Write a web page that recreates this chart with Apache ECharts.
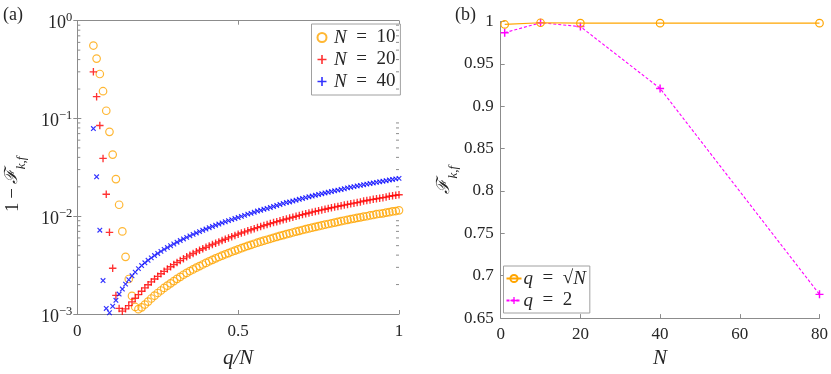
<!DOCTYPE html>
<html>
<head>
<meta charset="utf-8">
<script src="https://cdn.jsdelivr.net/npm/echarts@6/dist/echarts.min.js"></script>
<style>
  html, body { margin: 0; padding: 0; background: #fff; }
  #main { width: 831px; height: 374px; }
</style>
</head>
<body>
<div id="main"></div>
<script>
// panel (a): 1 - F vs q/N, log scale
const qOverN = [
  0.05, 0.06, 0.07, 0.08, 0.09, 0.10, 0.11, 0.12, 0.13, 0.14, 0.15, 0.16, 0.17, 0.18, 0.19, 0.20,
  0.21, 0.22, 0.23, 0.24, 0.25, 0.26, 0.27, 0.28, 0.29, 0.30, 0.31, 0.32, 0.33, 0.34, 0.35, 0.36,
  0.37, 0.38, 0.39, 0.40, 0.41, 0.42, 0.43, 0.44, 0.45, 0.46, 0.47, 0.48, 0.49, 0.50, 0.51, 0.52,
  0.53, 0.54, 0.55, 0.56, 0.57, 0.58, 0.59, 0.60, 0.61, 0.62, 0.63, 0.64, 0.65, 0.66, 0.67, 0.68,
  0.69, 0.70, 0.71, 0.72, 0.73, 0.74, 0.75, 0.76, 0.77, 0.78, 0.79, 0.80, 0.81, 0.82, 0.83, 0.84,
  0.85, 0.86, 0.87, 0.88, 0.89, 0.90, 0.91, 0.92, 0.93, 0.94, 0.95, 0.96, 0.97, 0.98, 0.99, 1.00
];

const infidN10 = [
  0.557, 0.41, 0.285, 0.19, 0.12, 0.073, 0.0427, 0.024, 0.0131, 0.0070, 0.00384, 0.00228, 0.00153, 0.00118, 0.00112, 0.00117,
  0.00125, 0.00134, 0.00144, 0.00154, 0.00164, 0.00174, 0.00185, 0.00195, 0.00206, 0.00217, 0.00229, 0.00240, 0.00252, 0.00263, 0.00275, 0.00286,
  0.00298, 0.00309, 0.00321, 0.00333, 0.00346, 0.00358, 0.00371, 0.00383, 0.00396, 0.00408, 0.00420, 0.00433, 0.00445, 0.00458, 0.00471, 0.00484,
  0.00497, 0.00510, 0.00523, 0.00536, 0.00549, 0.00562, 0.00575, 0.00588, 0.00602, 0.00615, 0.00629, 0.00642, 0.00655, 0.00669, 0.00682, 0.00696,
  0.00709, 0.00723, 0.00737, 0.00751, 0.00764, 0.00778, 0.00792, 0.00806, 0.00820, 0.00833, 0.00847, 0.00861, 0.00875, 0.00890, 0.00904, 0.00918,
  0.00932, 0.00946, 0.00961, 0.00975, 0.00989, 0.0100, 0.0102, 0.0103, 0.0105, 0.0106, 0.0107, 0.0109, 0.0110, 0.0112, 0.0113, 0.0115
];

const infidN20 = [
  0.30, 0.167, 0.0847, 0.039, 0.0168, 0.00684, 0.00294, 0.00155, 0.00114, 0.00107, 0.00113, 0.00122, 0.00133, 0.00145, 0.00158, 0.00171,
  0.00185, 0.00199, 0.00213, 0.00228, 0.00243, 0.00258, 0.00273, 0.00288, 0.00304, 0.00320, 0.00336, 0.00352, 0.00368, 0.00384, 0.00400, 0.00416,
  0.00432, 0.00449, 0.00465, 0.00481, 0.00497, 0.00514, 0.00530, 0.00546, 0.00564, 0.00582, 0.00600, 0.00618, 0.00636, 0.00655, 0.00673, 0.00691,
  0.00709, 0.00727, 0.00746, 0.00765, 0.00784, 0.00803, 0.00822, 0.00842, 0.00861, 0.00880, 0.00899, 0.00918, 0.00938, 0.00958, 0.00977, 0.00997,
  0.0102, 0.0104, 0.0106, 0.0108, 0.0110, 0.0112, 0.0114, 0.0116, 0.0118, 0.0120, 0.0122, 0.0124, 0.0126, 0.0128, 0.0130, 0.0132,
  0.0134, 0.0136, 0.0138, 0.0140, 0.0143, 0.0145, 0.0147, 0.0149, 0.0151, 0.0153, 0.0155, 0.0157, 0.0160, 0.0162, 0.0164, 0.0166
];

const infidN40 = [
  0.0788, 0.0253, 0.0072, 0.0022, 0.00114, 0.00103, 0.00120, 0.00138, 0.00160, 0.00180, 0.00202, 0.00224, 0.00246, 0.00268, 0.00291, 0.00313,
  0.00334, 0.00354, 0.00375, 0.00396, 0.00416, 0.00437, 0.00458, 0.00478, 0.00499, 0.00520, 0.00542, 0.00564, 0.00586, 0.00608, 0.00630, 0.00652,
  0.00674, 0.00696, 0.00718, 0.00740, 0.00763, 0.00786, 0.00809, 0.00832, 0.00855, 0.00878, 0.00901, 0.00924, 0.00947, 0.00970, 0.00996, 0.0102,
  0.0105, 0.0107, 0.0110, 0.0113, 0.0115, 0.0118, 0.0120, 0.0123, 0.0126, 0.0129, 0.0132, 0.0135, 0.0138, 0.0140, 0.0143, 0.0146,
  0.0149, 0.0152, 0.0155, 0.0158, 0.0161, 0.0164, 0.0167, 0.0170, 0.0173, 0.0176, 0.0179, 0.0182, 0.0185, 0.0188, 0.0191, 0.0195,
  0.0198, 0.0201, 0.0204, 0.0207, 0.0210, 0.0213, 0.0216, 0.0219, 0.0222, 0.0225, 0.0228, 0.0231, 0.0235, 0.0238, 0.0241, 0.0244
];

const logMinorTicks = [
  0.002, 0.003, 0.004, 0.005, 0.006, 0.007, 0.008, 0.009,
  0.02, 0.03, 0.04, 0.05, 0.06, 0.07, 0.08, 0.09,
  0.2, 0.3, 0.4, 0.5, 0.6, 0.7, 0.8, 0.9
];

// panel (b): F vs N
const nValues = [1, 10, 20, 40, 80];
const fidSqrtN = [0.9965, 0.9985, 0.998, 0.998, 0.998];
const fidQ2 = [0.9868, 0.9985, 0.994, 0.921, 0.678];

const legendA = ['N = 10', 'N = 20', 'N = 40'];
const legendB = ['q = √N', 'q = 2'];

const FONT = 'Liberation Serif';
const TXT = '#262626';
const AXC = '#8c8c8c';
const ORANGE = '#FFA500';
const SP = '\u2002';

const plusPath = 'path://M0,4.1H10V5.9H0Z M4.1,0H5.9V10H4.1Z';

const chart = echarts.init(document.getElementById('main'));

const pairs = (xs, ys) => xs.map((x, i) => [x, ys[i]]);

const richText = {
  i: {fontFamily: FONT, fontStyle: 'italic', fontSize: 19, color: TXT, lineHeight: 21},
  r: {fontFamily: FONT, fontSize: 19, color: TXT, lineHeight: 21}
};

const logLabel = v => {
  const e = Math.round(Math.log10(v));
  return '{b|10}{s|' + (e < 0 ? '−' + (-e) : e) + '}';
};

const titleStyle = {fontFamily: FONT, fontSize: 18, fontWeight: 'normal', color: TXT};
const tickFont = {fontFamily: FONT, fontSize: 17, color: TXT};
const nameRich = {
  r: {fontFamily: FONT, fontSize: 19, color: TXT, lineHeight: 25, verticalAlign: 'top'},
  f: {fontFamily: FONT, fontStyle: 'italic', fontSize: 18, color: TXT, lineHeight: 25, verticalAlign: 'top'},
  s: {fontFamily: FONT, fontStyle: 'italic', fontSize: 13, color: TXT, lineHeight: 14, verticalAlign: 'bottom'},
  pa: {width: 34},
  pb: {width: 20}
};

const option = {
  animation: false,
  title: [
    {text: '(a)', left: -2, top: 1, textStyle: titleStyle},
    {text: '(b)', left: 450, top: 1, textStyle: titleStyle}
  ],
  grid: [
    {left: 77.3, top: 20.7, width: 321.7, height: 299.3},
    {left: 500.7, top: 21.5, width: 321, height: 298}
  ],
  legend: [
    {
      data: legendA,
      orient: 'vertical',
      left: 311.5, top: 24,
      padding: [4, 5, 4, 5],
      itemGap: 3,
      itemWidth: 10, itemHeight: 9,
      borderColor: '#a0a0a0', borderWidth: 1,
      backgroundColor: '#fff',
      formatter: name => '{i|N}{r|' + SP + '=' + SP + name.split('= ')[1] + '}',
      textStyle: {rich: richText, padding: [0, 0, 0, 2]}
    },
    {
      data: legendB,
      orient: 'vertical',
      left: 503.5, top: 266,
      padding: [3, 4, 3, 2],
      itemGap: 3,
      itemWidth: 15, itemHeight: 9,
      borderColor: '#a0a0a0', borderWidth: 1,
      backgroundColor: '#fff',
      formatter: name => name === 'q = 2'
        ? '{i|q}{r|' + SP + '=' + SP + '2}'
        : '{i|q}{r|' + SP + '=' + SP + '√}{i|N}',
      textStyle: {rich: richText, padding: [0, 0, 0, -3]}
    }
  ],
  xAxis: [
    {
      gridIndex: 0, type: 'value', min: 0, max: 1, interval: 0.5,
      name: 'q/N', nameLocation: 'middle', nameGap: 34,
      nameTextStyle: {fontFamily: FONT, fontStyle: 'italic', fontSize: 21, color: TXT},
      axisLine: {lineStyle: {color: AXC}},
      axisTick: {inside: true, length: 4, lineStyle: {color: AXC}},
      axisLabel: Object.assign({margin: 9}, tickFont),
      splitLine: {show: false}
    },
    {
      gridIndex: 0, type: 'value', min: 0, max: 1, interval: 0.5, position: 'top',
      axisLine: {lineStyle: {color: AXC}},
      axisTick: {inside: true, length: 4, lineStyle: {color: AXC}},
      axisLabel: {show: false},
      splitLine: {show: false}
    },
    {
      gridIndex: 1, type: 'value', min: 0, max: 80, interval: 20,
      name: 'N', nameLocation: 'middle', nameGap: 28,
      nameTextStyle: {fontFamily: FONT, fontStyle: 'italic', fontSize: 21, color: TXT},
      axisLine: {lineStyle: {color: AXC}},
      axisTick: {inside: true, length: 4, lineStyle: {color: AXC}},
      axisLabel: Object.assign({margin: 8}, tickFont),
      splitLine: {show: false}
    }
  ],
  yAxis: [
    {
      gridIndex: 0, type: 'log', logBase: 10, min: 0.001, max: 1,
      name: '{r|1\u2009−\u2009}{f|ℱ}{s|k,f}{pa|}', nameLocation: 'middle', nameGap: 49, nameRotate: 90,
      nameTextStyle: {rich: nameRich},
      axisLine: {lineStyle: {color: AXC}},
      axisTick: {inside: true, length: 4, lineStyle: {color: AXC}},
      axisLabel: {
        formatter: logLabel, margin: 5, fontSize: 18, fontFamily: FONT, color: TXT,
        rich: {
          b: {fontFamily: FONT, fontSize: 18, color: TXT, padding: [6, 0, 0, 0]},
          s: {fontFamily: FONT, fontSize: 12.5, color: TXT, padding: [0, 0, 5, 0]}
        }
      },
      splitLine: {show: false}
    },
    {
      gridIndex: 0, type: 'log', logBase: 10, min: 0.001, max: 1, position: 'right',
      axisLine: {lineStyle: {color: AXC}},
      axisTick: {inside: true, length: 4, lineStyle: {color: AXC}},
      axisLabel: {show: false},
      splitLine: {show: false}
    },
    {
      gridIndex: 1, type: 'value', min: 0.65, max: 1, interval: 0.05,
      name: '{f|ℱ}{s|k,f}{pb|}', nameLocation: 'middle', nameGap: 40, nameRotate: 90,
      nameTextStyle: {rich: nameRich},
      axisLine: {show: true, lineStyle: {color: AXC}},
      axisTick: {inside: true, length: 4, lineStyle: {color: AXC}},
      axisLabel: Object.assign({margin: 7}, tickFont),
      splitLine: {show: false}
    }
  ],
  series: [
    {
      name: 'logMinor', type: 'custom', xAxisIndex: 0, yAxisIndex: 0, silent: true, clip: false,
      data: logMinorTicks.map(v => [0, v]),
      z: 10,
      renderItem: (params, api) => {
        const v = api.value(1);
        const a = api.coord([0, v]);
        const b = api.coord([1, v]);
        const style = {stroke: AXC, lineWidth: 1};
        return {
          type: 'group',
          children: [
            {type: 'line', shape: {x1: a[0], y1: a[1], x2: a[0] + 3, y2: a[1]}, style},
            {type: 'line', shape: {x1: b[0] - 3, y1: b[1], x2: b[0], y2: b[1]}, style}
          ]
        };
      }
    },
    {
      name: 'N = 10', type: 'scatter', xAxisIndex: 0, yAxisIndex: 0,
      data: pairs(qOverN, infidN10),
      symbol: 'circle', symbolSize: 7.5,
      itemStyle: {color: 'rgba(0,0,0,0)', borderColor: ORANGE, borderWidth: 1.2}
    },
    {
      name: 'N = 20', type: 'scatter', xAxisIndex: 0, yAxisIndex: 0,
      data: pairs(qOverN, infidN20),
      symbol: plusPath, symbolSize: 7.5,
      itemStyle: {color: '#ff0000'}
    },
    {
      name: 'N = 40', type: 'scatter', xAxisIndex: 0, yAxisIndex: 0,
      data: pairs(qOverN, infidN40),
      symbol: plusPath, symbolSize: 6.5, symbolRotate: 45,
      itemStyle: {color: '#0000ff'}
    },
    {
      name: 'q = √N', type: 'line', xAxisIndex: 2, yAxisIndex: 2,
      data: pairs(nValues, fidSqrtN),
      symbol: 'circle', symbolSize: 7.5, showSymbol: true,
      lineStyle: {color: ORANGE, width: 1.2},
      itemStyle: {color: 'rgba(0,0,0,0)', borderColor: ORANGE, borderWidth: 1.2},
      z: 3
    },
    {
      name: 'q = 2', type: 'line', xAxisIndex: 2, yAxisIndex: 2,
      data: pairs(nValues, fidQ2),
      symbol: plusPath, symbolSize: 8, showSymbol: true,
      lineStyle: {color: '#ff00ff', width: 1.1, type: [3, 2]},
      itemStyle: {color: '#ff00ff'},
      z: 2
    }
  ]
};

chart.setOption(option);
</script>
</body>
</html>
